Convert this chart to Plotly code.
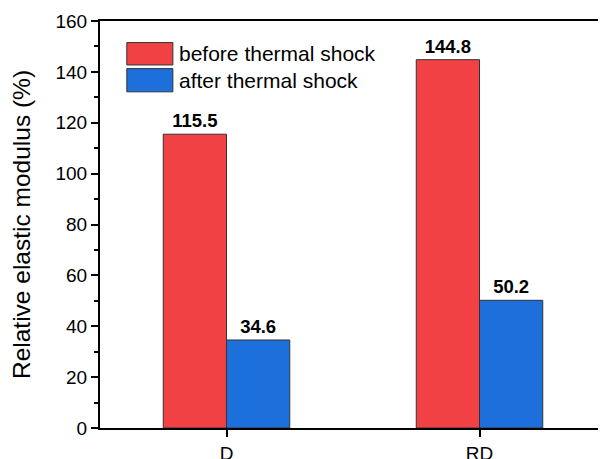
import plotly.graph_objects as go

categories = ["D", "RD"]
before_vals = [115.5, 144.8]
after_vals = [34.6, 50.2]
series_names = ["before thermal shock", "after thermal shock"]
y_ticks = [0, 20, 40, 60, 80, 100, 120, 140, 160]

RED = "#F24144"
BLUE = "#1D6FDC"
FONT = "Liberation Sans, Arial, sans-serif"

fig = go.Figure()
for vals, name, color in [(before_vals, series_names[0], RED), (after_vals, series_names[1], BLUE)]:
    fig.add_trace(go.Bar(
        x=categories, y=vals, name=name,
        marker=dict(color=color, line=dict(color="#333333", width=1)),
        text=[f"<b>{v:.1f}</b>" for v in vals],
        textposition="outside", cliponaxis=False,
        textfont=dict(family=FONT, size=18.5, color="black"),
        showlegend=False,
    ))

# custom legend with large swatches
legend_rows = [(series_names[0], RED, 0.947, 0.892), (series_names[1], BLUE, 0.883, 0.826)]
shapes = []
annotations = []
for name, color, y1, y0 in legend_rows:
    shapes.append(dict(type="rect", xref="paper", yref="paper", x0=0.053, x1=0.144, y0=y0, y1=y1,
                       fillcolor=color, line=dict(color="#333333", width=1)))
    annotations.append(dict(xref="paper", yref="paper", x=0.152, y=(y0 + y1) / 2, text=name,
                            showarrow=False, xanchor="left", yanchor="middle",
                            font=dict(family=FONT, size=21, color="black")))

# page body has an 8px default margin, so the figure is sized to fit inside it
fig.update_layout(
    width=598, height=451,
    margin=dict(l=92, r=0, t=13, b=31, autoexpand=False),
    paper_bgcolor="white", plot_bgcolor="white",
    barmode="group", bargap=0.5, bargroupgap=0,
    font=dict(family=FONT, color="black"),
    shapes=shapes, annotations=annotations,
    xaxis=dict(
        range=[-0.5, 1.5], showline=True, linecolor="black", linewidth=2, mirror=True,
        ticks="outside", ticklen=7, tickwidth=2, tickcolor="black", automargin=False,
        tickfont=dict(family=FONT, size=19), showgrid=False, zeroline=False,
    ),
    yaxis=dict(
        range=[0, 160], tickvals=y_ticks, showline=True, linecolor="black", linewidth=2,
        ticks="outside", ticklen=7, tickwidth=2, tickcolor="black", automargin=False,
        minor=dict(ticks="outside", ticklen=4, tickwidth=1.5, tickcolor="black", dtick=10),
        tickfont=dict(family=FONT, size=19), showgrid=False, zeroline=False,
        title=dict(text="Relative elastic modulus (%)", font=dict(family=FONT, size=24.5), standoff=18),
    ),
)

fig.write_html("out.html")
